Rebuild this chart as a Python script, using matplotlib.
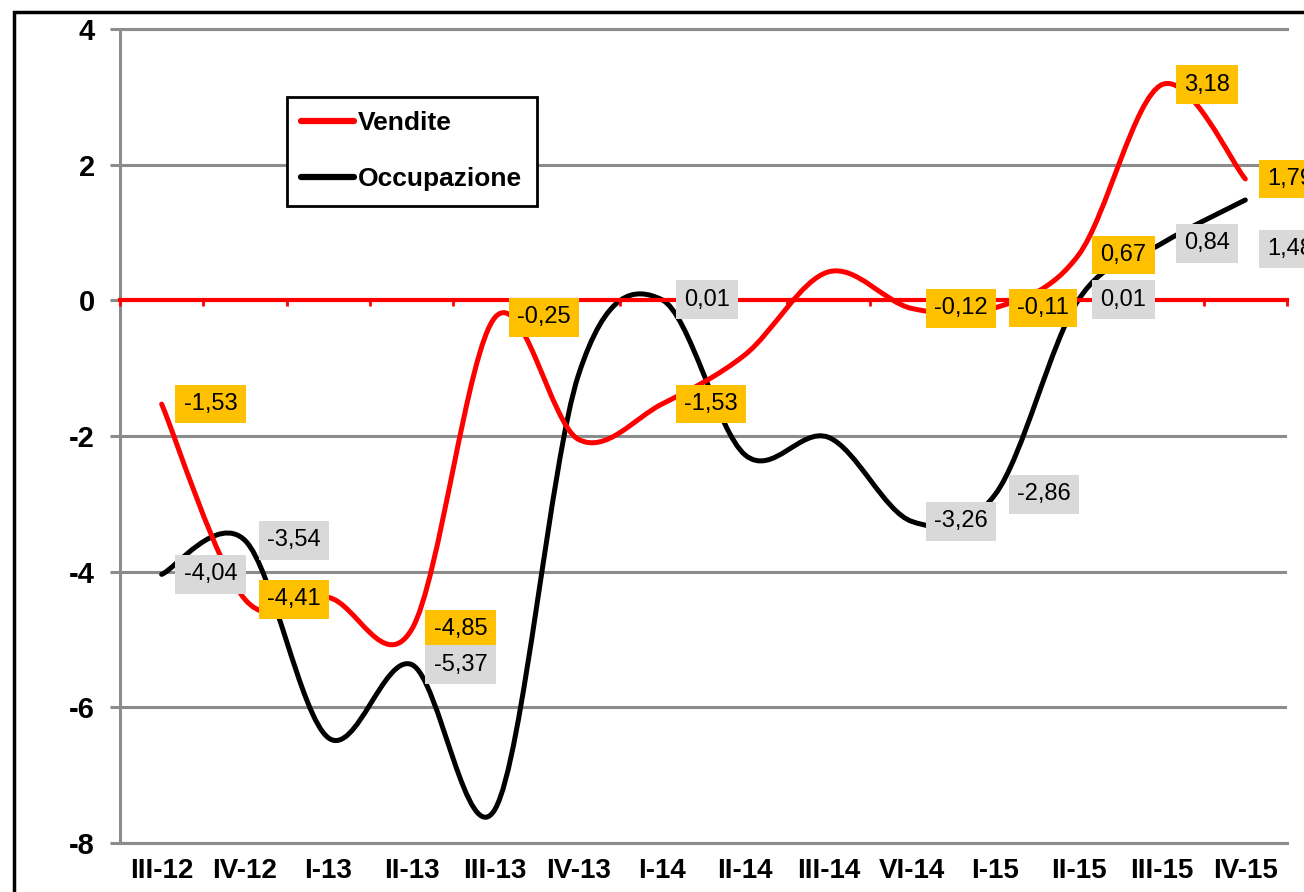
import matplotlib
matplotlib.use('Agg')
import matplotlib.pyplot as plt
import numpy as np
from matplotlib.path import Path
from matplotlib.patches import PathPatch, Rectangle
from matplotlib.lines import Line2D

plt.rcParams['font.family'] = ['Liberation Sans', 'DejaVu Sans']
plt.rcParams['axes.unicode_minus'] = False

periodi = ['III-12', 'IV-12', 'I-13', 'II-13', 'III-13', 'IV-13', 'I-14',
           'II-14', 'III-14', 'VI-14', 'I-15', 'II-15', 'III-15', 'IV-15']
vendite = [-1.53, -4.41, -4.38, -4.85, -0.25, -2.05, -1.53,
           -0.80, 0.42, -0.12, -0.11, 0.67, 3.18, 1.79]
occupazione = [-4.04, -3.54, -6.45, -5.37, -7.50, -1.10, 0.01,
               -2.28, -2.02, -3.26, -2.86, 0.01, 0.84, 1.48]
# etichette mostrate (None = nessuna etichetta)
lbl_vendite = ['-1,53', '-4,41', None, '-4,85', '-0,25', None, '-1,53',
               None, None, '-0,12', '-0,11', '0,67', '3,18', '1,79']
lbl_occupazione = ['-4,04', '-3,54', None, '-5,37', None, None, '0,01',
                   None, None, '-3,26', '-2,86', '0,01', '0,84', '1,48']


def smooth_path(xs, ys):
    # curva smussata stile Excel (bezier tipo Catmull-Rom)
    n = len(xs)
    verts = [(xs[0], ys[0])]
    codes = [Path.MOVETO]
    for i in range(n - 1):
        a = max(i - 1, 0)
        d = min(i + 2, n - 1)
        c1 = (xs[i] + (xs[i + 1] - xs[a]) / 6, ys[i] + (ys[i + 1] - ys[a]) / 6)
        c2 = (xs[i + 1] - (xs[d] - xs[i]) / 6, ys[i + 1] - (ys[d] - ys[i]) / 6)
        verts += [c1, c2, (xs[i + 1], ys[i + 1])]
        codes += [Path.CURVE4] * 3
    return Path(verts, codes)


fig = plt.figure(figsize=(13.04, 8.92), dpi=100)
ax = fig.add_axes([120 / 1304, 49 / 892, 1167 / 1304, 814 / 892])

x = np.arange(len(periodi))
grey = '#8c8c8c'

ax.add_patch(PathPatch(smooth_path(x, occupazione), fill=False, ec='black',
                       lw=3.6, capstyle='round', joinstyle='round', zorder=2))
ax.add_patch(PathPatch(smooth_path(x, vendite), fill=False, ec='#ff0000',
                       lw=3.6, capstyle='round', joinstyle='round', zorder=3))

ax.set_xlim(-0.5, len(periodi) - 0.5)
ax.set_ylim(-8, 4)
ax.set_yticks(np.arange(-8, 5, 2))
ax.set_xticks(x)
ax.set_xticklabels(periodi)
ax.yaxis.grid(True, color=grey, lw=2.2)
ax.set_axisbelow(True)
for s in ['top', 'bottom', 'left']:
    ax.spines[s].set_color(grey)
    ax.spines[s].set_linewidth(2.2)
ax.spines['right'].set_visible(False)
ax.tick_params(axis='y', length=7, width=2.2, color=grey, pad=11,
               labelsize=21)
ax.tick_params(axis='x', length=0, pad=11, labelsize=20)
for t in ax.get_xticklabels() + ax.get_yticklabels():
    t.set_fontweight('bold')

# asse delle categorie rosso sullo zero
sec = ax.secondary_xaxis(8 / 12)
sec.set_alignment('bottom')
sec.spines['bottom'].set_color('#ff0000')
sec.spines['bottom'].set_linewidth(3)
sec.set_xticks(np.arange(-0.5, len(periodi), 1))
sec.tick_params(axis='x', length=4, width=2, color='#ff0000', labelbottom=False)
sec.set_zorder(4)

# etichette dati
for i in range(len(periodi)):
    if lbl_vendite[i]:
        ax.annotate(lbl_vendite[i], (x[i], vendite[i]), xytext=(22, 0),
                    textcoords='offset pixels', ha='left', va='center',
                    fontsize=17, zorder=6,
                    bbox=dict(boxstyle='square,pad=0.35', fc='#ffc000', ec='none'))
    if lbl_occupazione[i]:
        dy = -49 if i == len(periodi) - 1 else 0
        ax.annotate(lbl_occupazione[i], (x[i], occupazione[i]), xytext=(22, dy),
                    textcoords='offset pixels', ha='left', va='center',
                    fontsize=17, zorder=6,
                    bbox=dict(boxstyle='square,pad=0.35', fc='#d9d9d9', ec='none'))

handles = [Line2D([], [], color='#ff0000', lw=4.5, solid_capstyle='round'),
           Line2D([], [], color='black', lw=4.5, solid_capstyle='round')]
leg = ax.legend(handles, ['Vendite', 'Occupazione'], loc='upper left',
                bbox_to_anchor=(0.143, 0.9165), borderaxespad=0,
                fancybox=False, framealpha=1, edgecolor='black',
                prop={'size': 19, 'weight': 'bold'}, handlelength=2.0,
                handletextpad=0.15, labelspacing=1.2, borderpad=0.55)
leg.get_frame().set_linewidth(2)
leg.set_zorder(7)

fig.add_artist(Rectangle((14 / 1304, -0.1), 1.2, 1 - 12 / 892 + 0.1,
                         transform=fig.transFigure, fill=False,
                         ec='black', lw=2.5))

fig.savefig('out.png', dpi=100)
